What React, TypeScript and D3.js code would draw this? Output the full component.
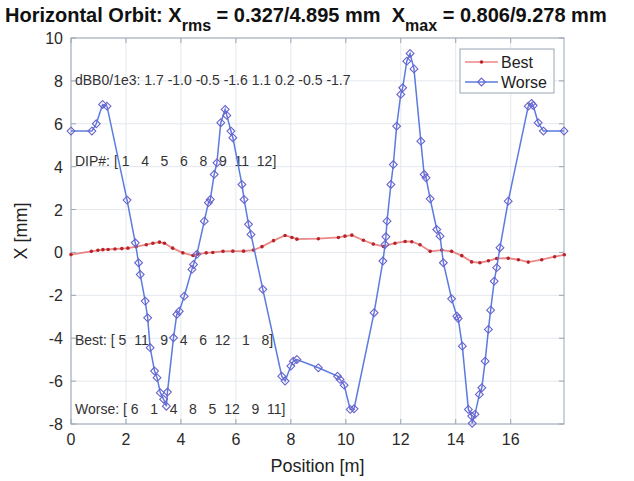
import React from 'react';
import * as d3 from 'd3';

const bestX = [0, 0.74, 0.98, 1.16, 1.35, 1.6, 1.85, 2.07, 2.37, 2.74, 2.98, 3.22, 3.4, 3.7, 4.07, 4.44, 4.6, 4.92, 5.16, 5.53, 5.89, 6.28, 6.64, 6.95, 7.37, 7.79, 8.04, 8.22, 9.0, 9.73, 9.97, 10.22, 10.64, 11.0, 11.37, 11.79, 12.16, 12.4, 12.7, 13.07, 13.49, 13.85, 14.22, 14.58, 14.88, 15.19, 15.49, 15.91, 16.28, 16.64, 17.13, 17.6, 17.95];
const bestY = [-0.1, 0.05, 0.1, 0.13, 0.14, 0.16, 0.18, 0.2, 0.27, 0.36, 0.43, 0.48, 0.43, 0.2, -0.02, -0.14, -0.08, -0.02, 0.0, 0.05, 0.06, 0.06, 0.11, 0.27, 0.55, 0.79, 0.7, 0.62, 0.64, 0.7, 0.76, 0.806, 0.57, 0.39, 0.28, 0.43, 0.51, 0.5, 0.36, 0.05, 0.11, 0.05, -0.15, -0.44, -0.48, -0.39, -0.28, -0.27, -0.34, -0.45, -0.34, -0.2, -0.11];

const worseX = [0.0, 0.76, 0.92, 1.15, 1.31, 2.04, 2.34, 2.46, 2.52, 2.7, 2.79, 2.88, 3.04, 3.13, 3.25, 3.37, 3.47, 3.51, 3.73, 3.85, 3.94, 4.12, 4.4, 4.46, 4.58, 4.85, 5.0, 5.07, 5.21, 5.31, 5.45, 5.61, 5.67, 5.82, 5.89, 6.22, 6.3, 6.46, 6.55, 6.98, 7.67, 7.79, 8.0, 8.09, 8.22, 9.0, 9.7, 9.79, 9.94, 10.16, 10.3, 11.03, 11.35, 11.43, 11.46, 11.5, 11.64, 11.73, 11.85, 12.0, 12.07, 12.22, 12.34, 12.48, 12.73, 12.85, 12.92, 13.07, 13.31, 13.43, 13.55, 13.85, 14.04, 14.09, 14.24, 14.46, 14.58, 14.6, 14.7, 14.86, 14.95, 15.07, 15.19, 15.27, 15.4, 15.49, 15.61, 15.91, 16.64, 16.76, 16.82, 17.0, 17.19, 17.94];
const worseY = [5.66, 5.66, 6.0, 6.9, 6.82, 2.44, 0.45, -0.48, -1.03, -2.27, -3.05, -4.44, -5.53, -5.84, -6.54, -6.85, -7.17, -6.51, -3.98, -2.89, -2.74, -2.04, -0.79, -0.56, -0.09, 1.46, 2.32, 2.47, 3.64, 4.18, 6.05, 6.67, 6.39, 5.66, 5.35, 3.17, 2.47, 1.31, 0.84, -1.72, -5.77, -6.0, -5.3, -5.07, -4.99, -5.38, -5.77, -5.92, -6.19, -7.32, -7.29, -2.81, -0.4, 0.37, 0.73, 1.46, 3.17, 4.1, 5.89, 7.37, 7.68, 8.92, 9.278, 8.56, 5.19, 3.64, 3.48, 2.5, 1.07, 0.76, -0.48, -2.16, -2.97, -3.08, -4.37, -7.32, -7.63, -7.97, -7.55, -6.62, -6.31, -5.07, -3.59, -2.69, -1.34, -0.71, 0.22, 2.39, 6.82, 6.95, 6.85, 6.05, 5.66, 5.66];

const xTicks = [0, 2, 4, 6, 8, 10, 12, 14, 16];
const yTicks = [-8, -6, -4, -2, 0, 2, 4, 6, 8, 10];
const notes = [
  { text: 'dBB0/1e3: 1.7 -1.0 -0.5 -1.6 1.1 0.2 -0.5 -1.7', y: 8.05 },
  { text: 'DIP#: [ 1   4   5   6   8   9  11  12]', y: 4.25 },
  { text: 'Best: [ 5  11   9   4   6  12   1   8]', y: -4.1 },
  { text: 'Worse: [ 6   1   4   8   5  12   9  11]', y: -7.3 },
];
const seriesNames = ['Best', 'Worse'];

const W = 634, H = 481;
const M = { left: 71, right: 70, top: 38, bottom: 57 };
const RED = '#e04848';
const BLUE = '#5a7be0';
const FONT = 'Liberation Sans, Arial, Helvetica, sans-serif';
// rotated-square marker, ~7px across
const DIAMOND = 'M0,-3.9L3.9,0L0,3.9L-3.9,0Z';

export default function App() {
  const x = d3.scaleLinear().domain([0, 17.94]).range([M.left, W - M.right]);
  const y = d3.scaleLinear().domain([-8, 10]).range([H - M.bottom, M.top]);
  const best = bestX.map((v, i) => [v, bestY[i]] as [number, number]);
  const worse = worseX.map((v, i) => [v, worseY[i]] as [number, number]);
  const line = d3.line<[number, number]>().x(d => x(d[0])).y(d => y(d[1]));
  const [x0, x1] = x.range();
  const [yb, yt] = y.range();

  return (
    <svg width={W} height={H} style={{ position: 'absolute', left: 0, top: 0, background: '#fff' }} fontFamily={FONT}>
      <rect x={0} y={0} width={W} height={H} fill="#fff" />
      {xTicks.map(t => (
        <line key={'gx' + t} x1={x(t)} x2={x(t)} y1={yt} y2={yb} stroke="#e3e8ee" strokeWidth={1} />
      ))}
      {yTicks.map(t => (
        <line key={'gy' + t} x1={x0} x2={x1} y1={y(t)} y2={y(t)} stroke="#e3e8ee" strokeWidth={1} />
      ))}
      {xTicks.map(t => (
        <g key={'tx' + t}>
          <line x1={x(t)} x2={x(t)} y1={yb} y2={yb - 5} stroke="#9aa6b4" />
          <line x1={x(t)} x2={x(t)} y1={yt} y2={yt + 5} stroke="#9aa6b4" />
          <text x={x(t)} y={yb + 21} textAnchor="middle" fontSize={16} fill="#2a2a2a">{t}</text>
        </g>
      ))}
      {yTicks.map(t => (
        <g key={'ty' + t}>
          <line x1={x0} x2={x0 + 5} y1={y(t)} y2={y(t)} stroke="#9aa6b4" />
          <line x1={x1} x2={x1 - 5} y1={y(t)} y2={y(t)} stroke="#9aa6b4" />
          <text x={x0 - 8} y={y(t) + 6} textAnchor="end" fontSize={16} fill="#2a2a2a">{t}</text>
        </g>
      ))}
      <rect x={x0} y={yt} width={x1 - x0} height={yb - yt} fill="none" stroke="#9aa6b4" strokeWidth={1} />

      {notes.map(n => (
        <text key={n.text} x={x0 + 4} y={y(n.y) + 5} fontSize={14} fill="#333" style={{ whiteSpace: 'pre' }}>{n.text}</text>
      ))}

      <path d={line(best) || ''} fill="none" stroke={RED} strokeOpacity={0.65} strokeWidth={1.8} />
      {best.map((d, i) => (
        <circle key={'b' + i} cx={x(d[0])} cy={y(d[1])} r={1.8} fill="#b8242a" />
      ))}
      <path d={line(worse) || ''} fill="none" stroke={BLUE} strokeWidth={1.5} />
      {worse.map((d, i) => (
        <path key={'w' + i} d={DIAMOND} transform={`translate(${x(d[0])},${y(d[1])})`} fill="none" stroke="#6a62cc" strokeWidth={1.1} />
      ))}

      <g>
        <rect x={460} y={49} width={94} height={44} fill="#fff" stroke="#9aa6b4" />
        {seriesNames.map((s, i) => {
          const ly = 62 + i * 20;
          return (
            <g key={s}>
              <line x1={465} x2={498} y1={ly} y2={ly} stroke={i === 0 ? RED : BLUE} strokeOpacity={i === 0 ? 0.65 : 1} strokeWidth={1.5} />
              {i === 0 ? (
                <circle cx={481.5} cy={ly} r={1.8} fill="#b8242a" />
              ) : (
                <path d={DIAMOND} transform={`translate(481.5,${ly})`} fill="none" stroke="#6a62cc" strokeWidth={1.1} />
              )}
              <text x={501} y={ly + 6} fontSize={16} fill="#222">{s}</text>
            </g>
          );
        })}
      </g>

      <text x={(x0 + x1) / 2} y={472} textAnchor="middle" fontSize={18} fill="#222">Position [m]</text>
      <text transform={`translate(27,${(yt + yb) / 2}) rotate(-90)`} textAnchor="middle" fontSize={18} fill="#222">X [mm]</text>

      <text x={5} y={22} fontSize={20} fontWeight="bold" fill="#111" style={{ whiteSpace: 'pre' }}>
        Horizontal Orbit: X
        <tspan fontSize={16} dy={9}>rms</tspan>
        <tspan dy={-9}> = 0.327/4.895 mm  X</tspan>
        <tspan fontSize={16} dy={9}>max</tspan>
        <tspan dy={-9}> = 0.806/9.278 mm</tspan>
      </text>
    </svg>
  );
}
